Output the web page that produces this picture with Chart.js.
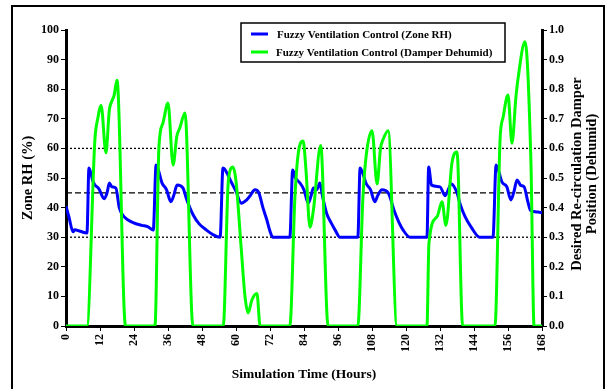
<!DOCTYPE html>
<html>
<head>
<meta charset="utf-8">
<script src="https://cdn.jsdelivr.net/npm/chart.js@4/dist/chart.umd.min.js"></script>
<style>
    body { margin: 0; background: #fff; }
    #wrap { width: 608px; height: 389px; position: relative; }
</style>
</head>
<body>
<div id="wrap"><canvas id="rh-chart"></canvas></div>
<script>
// blue curve: zone RH (%) against simulation hour
const rhHours = [0, 1, 2.5, 3, 5, 7.4, 8.1, 9.6, 10.3, 11.5, 13.5, 14.5, 15.3, 16.2, 17.6, 18.8, 20, 21.9, 24, 26.8, 29, 30.8,
    31.8, 33.9, 35.5, 37, 38, 39.2, 41.3, 42.5, 44.9, 47, 49.6, 52, 54.4,
    55.4, 56, 58.5, 60, 61.8, 63.8, 65, 66.7, 68.1, 69.5, 70.9, 72, 73, 79,
    80, 81, 82.6, 84, 85.5, 86.5, 87.3, 88.5, 89.6, 90.5, 92, 93.5, 95, 96.7, 103,
    103.8, 106, 107.5, 109, 110, 111.5, 113.7, 116, 117.5, 119, 121.4, 127.4,
    128, 129, 132, 133.8, 136, 138, 139, 140.8, 143, 146, 150.7,
    151.8, 153.9, 155.6, 157, 158, 159.2, 160.5, 161.7, 163, 164, 166.6, 168]
const rhValues = [40.5, 37, 31.8, 32.5, 32, 31.4, 53.4, 48.6, 47.5, 46.5, 43, 45, 48.3, 47, 46.6, 40, 37.5, 35.8, 34.8, 34, 33.5, 32.4,
    54.4, 48.3, 46, 42, 44, 47.6, 46.6, 43, 37.5, 34.5, 32.4, 30.8, 30,
    53.4, 53, 48.3, 45.5, 41.5, 42.6, 44, 46, 44.9, 40, 35.8, 32, 30, 30,
    52.7, 50, 48.3, 46, 41.5, 44, 46.6, 46, 48.3, 44, 38, 35, 32.4, 30, 30,
    53.4, 48, 46, 42, 44, 46, 45, 38.5, 35, 32.4, 30, 30,
    53.7, 47.6, 47, 44, 48, 45, 41.5, 37, 33.4, 30, 30,
    54.4, 48.6, 47, 42.6, 45, 49.3, 47.5, 47, 42, 39, 38.5, 38.3]

// green curve: desired re-circulation damper position (0-1)
const damperHours = [0, 7.4, 10.2, 11.2, 12.4, 14.1, 15.3, 16.2, 17, 18, 21,
    31.4, 32.8, 34.2, 36, 37.8, 39.1, 40.2, 42, 44.8,
    55.5, 57.3, 58.9, 60, 61.8, 63.2, 64.3, 65.6, 67.4, 68.5,
    79, 80.8, 82, 83.7, 84.7, 86.1, 87.3, 89.9, 92.5,
    103, 104.8, 106, 108, 109.8, 111, 111.9, 113.7, 116.8,
    127.4, 128.1, 131, 132.7, 134.1, 136.2, 138, 140,
    151.4, 153.2, 154.3, 156, 157.4, 158.8, 159.6, 162, 164.1, 165.2, 168]
const damperValues = [0, 0, 0.63, 0.70, 0.745, 0.585, 0.73, 0.76, 0.78, 0.83, 0,
    0, 0.605, 0.685, 0.753, 0.544, 0.64, 0.67, 0.72, 0,
    0, 0.49, 0.537, 0.49, 0.267, 0.098, 0.044, 0.088, 0.11, 0,
    0, 0.436, 0.585, 0.625, 0.527, 0.334, 0.39, 0.61, 0,
    0, 0.436, 0.58, 0.66, 0.48, 0.6, 0.63, 0.66, 0,
    0, 0.28, 0.37, 0.42, 0.34, 0.55, 0.588, 0,
    0, 0.63, 0.706, 0.78, 0.617, 0.774, 0.84, 0.96, 0.55, 0, 0]

// horizontal reference levels on the RH axis (dotted, dashed, dotted)
const refLevels = [60, 45, 30]
const refDashes = [[2, 2], [6, 3], [2, 2]]

const seriesLabels = ['Fuzzy Ventilation Control (Zone RH)', 'Fuzzy Ventilation Control (Damper Dehumid)']
const rightTitle = ['Desired Re-circulation Damper', 'Position (Dehumid)']

const FONT = 'Liberation Serif'
Chart.defaults.font.family = FONT
Chart.defaults.color = '#000'

const toPoints = (xs, ys) => xs.map((x, i) => ({ x: x, y: ys[i] }))

const datasets = [
    {
        label: seriesLabels[0],
        data: toPoints(rhHours, rhValues),
        borderColor: '#0000ff',
        borderWidth: 3,
        cubicInterpolationMode: 'monotone',
        yAxisID: 'y',
        order: 1
    },
    {
        label: seriesLabels[1],
        data: toPoints(damperHours, damperValues),
        borderColor: '#00ff00',
        borderWidth: 3,
        cubicInterpolationMode: 'monotone',
        yAxisID: 'y2',
        order: 0
    }
]
refLevels.forEach((lvl, i) => {
    datasets.push({
        label: 'ref' + i,
        data: [{ x: 0, y: lvl }, { x: 168, y: lvl }],
        borderColor: '#000',
        borderWidth: 1.3,
        borderDash: refDashes[i],
        yAxisID: 'y',
        order: 2
    })
})

// frame, boxed legend and the right-hand title (reads bottom to top like the left one)
const extras = {
    id: 'extras',
    afterDraw(chart) {
        const ctx = chart.ctx
        ctx.save()
        // outer frame
        ctx.strokeStyle = '#000'
        ctx.lineWidth = 2
        ctx.beginPath()
        ctx.moveTo(12, 389)
        ctx.lineTo(12, 6)
        ctx.lineTo(604, 6)
        ctx.lineTo(604, 389)
        ctx.stroke()

        // legend box
        ctx.fillStyle = '#fff'
        ctx.fillRect(241, 23, 264, 39)
        ctx.lineWidth = 1.5
        ctx.strokeRect(241, 23, 264, 39)
        ctx.font = 'bold 11px ' + FONT
        ctx.textBaseline = 'middle'
        ctx.textAlign = 'left'
        const rows = [34, 52]
        for (let i = 0; i < 2; i++) {
            ctx.strokeStyle = datasets[i].borderColor
            ctx.lineWidth = 3
            ctx.beginPath()
            ctx.moveTo(251, rows[i])
            ctx.lineTo(268, rows[i])
            ctx.stroke()
            ctx.fillStyle = '#000'
            ctx.fillText(seriesLabels[i], 277 - i, rows[i] + 1)
        }

        // right axis title, two lines
        const area = chart.chartArea
        ctx.translate(584, (area.top + area.bottom) / 2 - 4)
        ctx.rotate(-Math.PI / 2)
        ctx.font = 'bold 14.5px ' + FONT
        ctx.textAlign = 'center'
        ctx.fillText(rightTitle[0], 0, -7)
        ctx.fillText(rightTitle[1], 0, 8)
        ctx.restore()
    }
}

const tickFont = { size: 12, weight: 'bold' }
const axisGrid = { drawOnChartArea: false, drawTicks: true, tickLength: 5, color: '#000', lineWidth: 1 }
const axisBorder = { display: true, width: 3, color: '#000' }

new Chart(document.getElementById('rh-chart'), {
    type: 'line',
    data: { datasets: datasets },
    options: {
        responsive: true,
        maintainAspectRatio: false,
        animation: false,
        layout: { padding: { top: 30, left: 0, right: 0, bottom: 0 } },
        elements: { point: { radius: 0 } },
        plugins: { legend: { display: false }, tooltip: { enabled: false } },
        scales: {
            x: {
                type: 'linear',
                min: 0,
                max: 168,
                ticks: { stepSize: 12, minRotation: 90, maxRotation: 90, font: tickFont, padding: 3 },
                grid: axisGrid,
                border: axisBorder,
                title: { display: true, text: 'Simulation Time (Hours)', font: { size: 13.5, weight: 'bold' }, padding: { top: 0, bottom: 6 } },
                afterFit: (scale) => { scale.height = 63 }
            },
            y: {
                position: 'left',
                min: 0,
                max: 100,
                ticks: { stepSize: 10, font: tickFont, padding: 2 },
                grid: axisGrid,
                border: axisBorder,
                title: { display: true, text: 'Zone RH (%)', font: { size: 14.5, weight: 'bold' }, padding: { top: 20, bottom: 0 } },
                afterFit: (scale) => { scale.width = 66 }
            },
            y2: {
                position: 'right',
                min: 0,
                max: 1,
                ticks: { stepSize: 0.1, font: tickFont, padding: 2, callback: (v) => v.toFixed(1) },
                grid: axisGrid,
                border: axisBorder,
                afterFit: (scale) => { scale.width = 66 }
            }
        }
    },
    plugins: [extras]
})
</script>
</body>
</html>
